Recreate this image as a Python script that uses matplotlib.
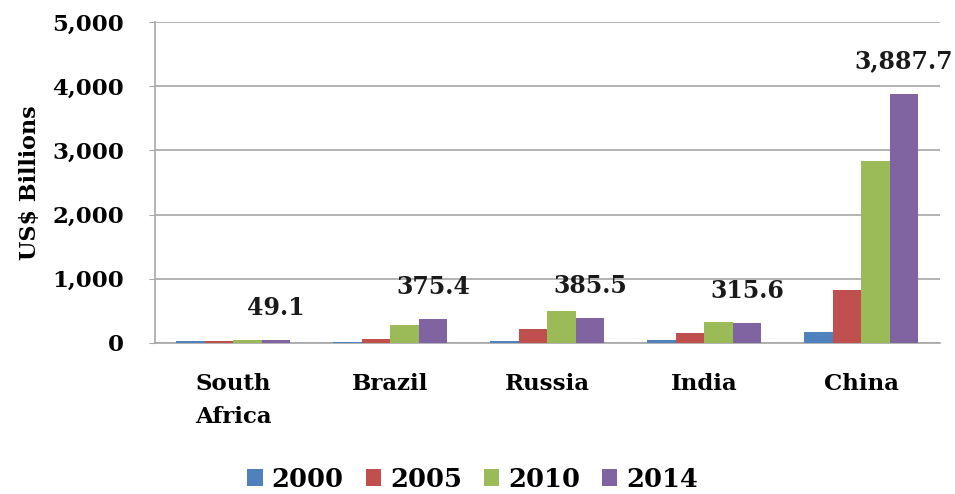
import matplotlib
matplotlib.use("Agg")
import matplotlib.pyplot as plt
import numpy as np
from matplotlib.ticker import FuncFormatter

countries = ["South\nAfrica", "Brazil", "Russia", "India", "China"]
years = ["2000", "2005", "2010", "2014"]
v2000 = [25, 20, 25, 45, 172]
v2005 = [30, 60, 215, 152, 826]
v2010 = [40, 282, 490, 318, 2840]
v2014 = [49.1, 375.4, 385.5, 315.6, 3887.7]
label_texts = ["49.1", "375.4", "385.5", "315.6", "3,887.7"]
colors = ["#4F81BD", "#C0504D", "#9BBB59", "#8064A2"]

plt.rcParams['font.family'] = ['DejaVu Serif']
plt.rcParams['font.weight'] = 'bold'

fig = plt.figure(figsize=(9.55, 4.94), dpi=100)
ax = fig.add_axes([0.162, 0.306, 0.822, 0.649])

series = [v2000, v2005, v2010, v2014]
x = np.arange(len(countries))
w = 0.182
for i, (vals, c, yr) in enumerate(zip(series, colors, years)):
    ax.bar(x + (i - 1.5) * w, vals, width=w, color=c, label=yr, zorder=3)

for xi, v, t in zip(x, v2014, label_texts):
    ax.annotate(t, xy=(xi + 1.5 * w, v), xytext=(0, 23), textcoords="offset points",
                ha="center", va="center", fontsize=17, fontweight="bold", color="#1a1a1a")

ax.set_xlim(-0.5, 4.5)
ax.set_ylim(0, 5000)
ax.set_yticks([0, 1000, 2000, 3000, 4000, 5000])
ax.yaxis.set_major_formatter(FuncFormatter(lambda v, p: f"{int(v):,}"))
ax.grid(axis="y", color="#A6A6A6", linewidth=1.2, zorder=0)
ax.set_xticks(x)
ax.set_xticklabels(countries, fontsize=16.5, fontweight="bold", linespacing=1.65)
ax.tick_params(axis="x", length=0, pad=22)
ax.tick_params(axis="y", labelsize=16.5, length=4, color="#A6A6A6", pad=18)
for s in ["top", "right"]:
    ax.spines[s].set_visible(False)
for s in ["left", "bottom"]:
    ax.spines[s].set_color("#A6A6A6")
    ax.spines[s].set_linewidth(1.2)
ax.set_ylabel("US$ Billions", fontsize=16, fontweight="bold", labelpad=8)
for lab in ax.get_yticklabels():
    lab.set_fontweight("bold")

leg = fig.legend(loc="center", bbox_to_anchor=(0.495, 0.03), ncol=4, frameon=False,
                 handlelength=0.6, handleheight=0.6, handletextpad=0.35,
                 columnspacing=0.85, prop={"weight": "bold", "size": 18.5})

fig.savefig("out.png", dpi=100)
